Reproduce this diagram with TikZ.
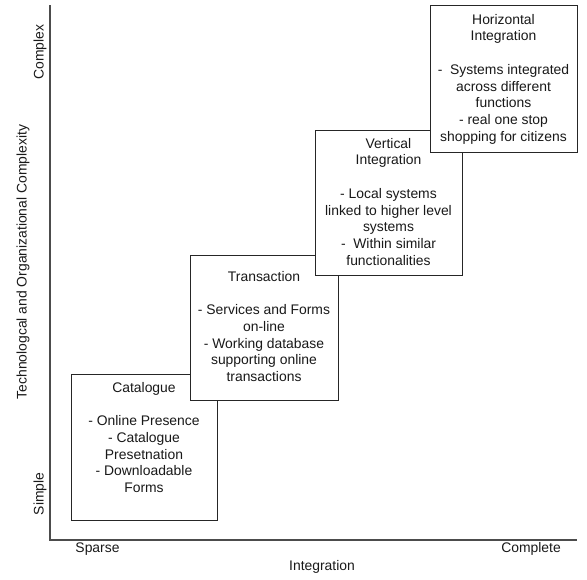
\documentclass[tikz,border=0pt]{standalone}
\usepackage{fontspec}
\setmainfont{Liberation Sans}
\begin{document}
\begin{tikzpicture}[x=1pt,y=-1pt,
  panel/.style={draw=black!85, line width=0.9pt, fill=white, inner sep=0pt, outer sep=0pt},
  paneltext/.style={anchor=north, align=center, inner sep=0pt, text=black!90, font=\fontsize{13.9}{16.7}\selectfont},
  axislabel/.style={inner sep=0pt, text=black!90, font=\fontsize{13.9}{16.7}\selectfont},
  axisline/.style={draw=black!70, line width=1.3pt}]
\useasboundingbox (0,0) rectangle (587,579);
% axes
\coordinate (ytop) at (50,5);
\coordinate (origin) at (50,540);
\coordinate (xend) at (577,540);
\draw[axisline] (ytop) -- (origin) -- (xend);
% axis labels
\node[axislabel, rotate=90] (complex) at (40,52) {Complex};
\node[axislabel, rotate=90] (simple) at (40,494) {Simple};
\node[axislabel, rotate=90] (ylabel) at (23,262) {Technologcal and Organizational Complexity};
\node[axislabel] (sparse) at (97.5,549) {Sparse};
\node[axislabel] (complete) at (531,549) {Complete};
\node[axislabel] (xlabel) at (322,567) {Integration};
% Catalogue
\node[panel, minimum width=146pt, minimum height=146pt] (cat) at (144,447) {};
\node[paneltext] (cattext) at (144,382) {Catalogue\\[16.7pt]- Online Presence\\- Catalogue\\Presetnation\\- Downloadable\\Forms};
% Transaction
\node[panel, minimum width=148pt, minimum height=145pt] (trans) at (264,327.5) {};
\node[paneltext] (transtext) at (264,271) {Transaction\\[16.7pt]- Services and Forms\\on-line\\- Working database\\supporting online\\transactions};
% Vertical Integration
\node[panel, minimum width=147pt, minimum height=145pt] (vert) at (388.5,202.5) {};
\node[paneltext] (verttext) at (388.5,138) {Vertical\\Integration\\[16.7pt]- Local systems\\linked to higher level\\systems\\-\ \ Within similar\\functionalities};
% Horizontal Integration
\node[panel, minimum width=147pt, minimum height=147pt] (horiz) at (503.5,78.5) {};
\node[paneltext] (horiztext) at (503.5,14) {Horizontal\\Integration\\[16.7pt]-\ \ Systems integrated\\across different\\functions\\- real one stop\\shopping for citizens};
\end{tikzpicture}
\end{document}
